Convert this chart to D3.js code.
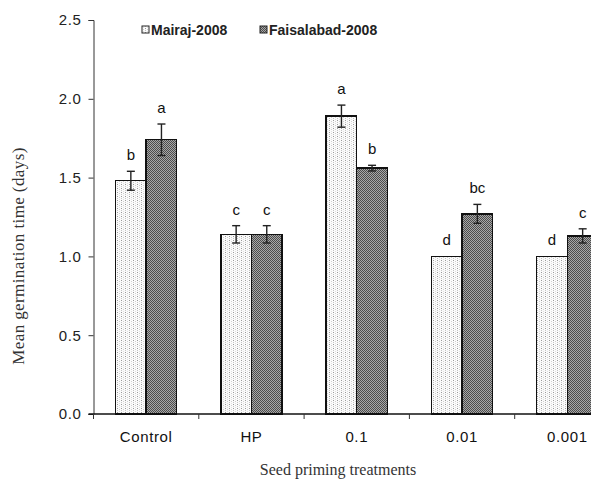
<!DOCTYPE html>
<html>
<head>
<meta charset="utf-8">
<script src="https://cdn.jsdelivr.net/npm/d3@7"></script>
<style>
  html, body { margin: 0; padding: 0; background: #fff; }
  svg { display: block; }
</style>
</head>
<body>
<svg id="chart" width="591" height="480"></svg>
<script>
// Mean germination time by seed priming treatment, two locations
const categories = ["Control", "HP", "0.1", "0.01", "0.001"];
const seriesNames = ["Mairaj-2008", "Faisalabad-2008"];
const mairajValues = [1.48, 1.14, 1.89, 1.00, 1.00];
const mairajErrors = [0.06, 0.055, 0.07, 0, 0];
const mairajLetters = ["b", "c", "a", "d", "d"];
const faisalabadValues = [1.74, 1.14, 1.56, 1.27, 1.13];
const faisalabadErrors = [0.10, 0.055, 0.018, 0.06, 0.045];
const faisalabadLetters = ["a", "c", "b", "bc", "c"];
const yTicks = [0.0, 0.5, 1.0, 1.5, 2.0, 2.5];

const svg = d3.select("#chart");

// Fill textures: light stipple and dark checker
const defs = svg.append("defs");
const stip = defs.append("pattern").attr("id", "stipple")
  .attr("patternUnits", "userSpaceOnUse").attr("width", 4).attr("height", 4);
stip.append("rect").attr("width", 4).attr("height", 4).attr("fill", "#fbfbfb");
[[1, 0, "#9a9a9a"], [1, 2, "#c4c4c4"], [3, 1, "#d0d0d0"], [3, 3, "#e0e0e0"]].forEach(([x, y, c]) =>
  stip.append("rect").attr("x", x).attr("y", y).attr("width", 1).attr("height", 1).attr("fill", c));

const chk = defs.append("pattern").attr("id", "checker")
  .attr("patternUnits", "userSpaceOnUse").attr("width", 2).attr("height", 2);
chk.append("rect").attr("width", 2).attr("height", 2).attr("fill", "#a8a8a8");
chk.append("rect").attr("x", 0).attr("y", 0).attr("width", 1).attr("height", 1).attr("fill", "#4c4c4c");
chk.append("rect").attr("x", 1).attr("y", 1).attr("width", 1).attr("height", 1).attr("fill", "#4c4c4c");

const fills = ["url(#stipple)", "url(#checker)"];

const plotLeft = 93.5, plotRight = 620, plotTop = 20, plotBottom = 414;

const x0 = d3.scaleBand().domain(categories).range([plotLeft, plotRight]).paddingInner(0).paddingOuter(0);
const x1 = d3.scaleBand().domain(seriesNames).range([0, x0.bandwidth()]).paddingInner(0).paddingOuter(0.72);
const y = d3.scaleLinear().domain([0, 2.5]).range([plotBottom, plotTop]);

const series = [
  { name: seriesNames[0], values: mairajValues, errors: mairajErrors, letters: mairajLetters },
  { name: seriesNames[1], values: faisalabadValues, errors: faisalabadErrors, letters: faisalabadLetters }
];

const rows = [];
series.forEach((s, si) => categories.forEach((c, ci) => rows.push({
  cat: c, name: s.name, si, v: s.values[ci], e: s.errors[ci], letter: s.letters[ci]
})));

const cx = d => x0(d.cat) + x1(d.name) + x1.bandwidth() / 2;
const g = svg.append("g");

// Bars
g.selectAll("rect.bar").data(rows).join("rect")
  .attr("class", "bar")
  .attr("x", d => x0(d.cat) + x1(d.name))
  .attr("y", d => y(d.v))
  .attr("width", x1.bandwidth())
  .attr("height", d => y(0) - y(d.v))
  .attr("fill", d => fills[d.si])
  .attr("stroke", "#111")
  .attr("stroke-width", 1.4)
  .attr("shape-rendering", "crispEdges");

// Error bars
const cap = 4;
const eb = g.selectAll("g.err").data(rows.filter(d => d.e > 0)).join("g").attr("class", "err")
  .attr("stroke", "#222").attr("stroke-width", 1.4);
eb.append("line")
  .attr("x1", cx).attr("x2", cx)
  .attr("y1", d => y(d.v + d.e)).attr("y2", d => y(d.v - d.e));
[1, -1].forEach(sgn => eb.append("line")
  .attr("x1", d => cx(d) - cap).attr("x2", d => cx(d) + cap)
  .attr("y1", d => y(d.v + sgn * d.e)).attr("y2", d => y(d.v + sgn * d.e)));

// Significance letters
g.selectAll("text.letter").data(rows).join("text")
  .attr("class", "letter")
  .attr("x", cx)
  .attr("y", d => y(d.v + d.e) - 11)
  .attr("text-anchor", "middle")
  .attr("font-family", "Liberation Sans, Arial, sans-serif")
  .attr("font-size", 15)
  .attr("fill", "#111")
  .text(d => d.letter);

// Y axis
const yAxis = d3.axisLeft(y).tickValues(yTicks).tickFormat(d3.format(".1f")).tickSize(5).tickPadding(7);
const ya = svg.append("g").attr("transform", `translate(${plotLeft},0)`).call(yAxis);
ya.select(".domain").attr("stroke", "#333").attr("stroke-width", 1);
ya.selectAll(".tick line").attr("stroke", "#333");
ya.selectAll(".tick text")
  .attr("font-family", "Liberation Sans, Arial, sans-serif")
  .attr("font-size", 15).attr("letter-spacing", "0.6px").attr("fill", "#222");

// X axis with ticks at category boundaries
const xa = svg.append("g").attr("transform", `translate(0,${plotBottom})`);
xa.append("line").attr("x1", plotLeft - 5).attr("x2", plotRight).attr("stroke", "#111").attr("stroke-width", 1.3);
xa.selectAll("line.tick").data(categories).join("line").attr("class", "tick")
  .attr("x1", d => x0(d)).attr("x2", d => x0(d)).attr("y1", 0).attr("y2", 5)
  .attr("stroke", "#333");
xa.selectAll("text").data(categories).join("text")
  .attr("x", d => x0(d) + x0.bandwidth() / 2)
  .attr("y", 28)
  .attr("text-anchor", "middle")
  .attr("font-family", "Liberation Sans, Arial, sans-serif")
  .attr("font-size", 15).attr("letter-spacing", "0.6px").attr("fill", "#111")
  .text(d => d);

// Axis titles
svg.append("text")
  .attr("x", 338).attr("y", 475)
  .attr("text-anchor", "middle")
  .attr("font-family", "Liberation Serif, Times New Roman, serif")
  .attr("font-size", 16).attr("fill", "#333")
  .text("Seed priming treatments");
svg.append("text")
  .attr("transform", "translate(24,256) rotate(-90)")
  .attr("text-anchor", "middle")
  .attr("font-family", "Liberation Serif, Times New Roman, serif")
  .attr("font-size", 17).attr("letter-spacing", "0.4px").attr("fill", "#333")
  .text("Mean germination time (days)");

// Legend
const legendX = [142, 260];
const lg = svg.append("g");
series.forEach((s, i) => {
  lg.append("rect").attr("x", legendX[i]).attr("y", 26).attr("width", 7).attr("height", 7)
    .attr("fill", fills[i]).attr("stroke", "#222").attr("stroke-width", 1);
  lg.append("text").attr("x", legendX[i] + 9).attr("y", 35)
    .attr("font-family", "Liberation Sans, Arial, sans-serif")
    .attr("font-size", 14).attr("font-weight", "bold").attr("fill", "#222")
    .text(s.name);
});
</script>
</body>
</html>
